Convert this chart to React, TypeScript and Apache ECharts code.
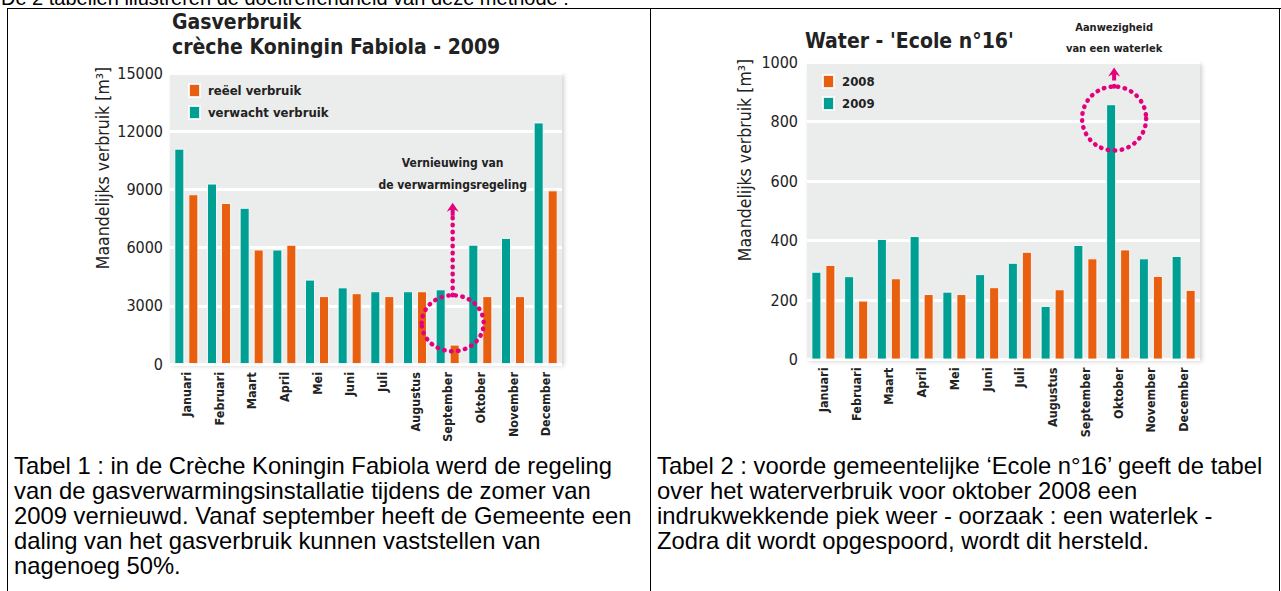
import React, { useEffect, useRef } from "react";
import * as echarts from "echarts";

// ---------- data ----------
const months = ["Januari", "Februari", "Maart", "April", "Mei", "Juni", "Juli", "Augustus", "September", "Oktober", "November", "December"];
const gasExpected = [11100, 9300, 8050, 5900, 4350, 3950, 3750, 3750, 3850, 6150, 6500, 12450];
const gasActual = [8750, 8300, 5900, 6150, 3500, 3650, 3500, 3750, 1000, 3500, 3500, 8950];
const water2009 = [295, 280, 405, 415, 228, 287, 325, 180, 385, 858, 340, 348];
const water2008 = [318, 198, 273, 220, 220, 243, 362, 236, 340, 370, 281, 234];
const gasAxis = [0, 15000, 3000];
const waterAxis = [0, 1000, 200];

const leftCaption = [
  "Tabel 1 : in de Crèche Koningin Fabiola werd de regeling",
  "van de gasverwarmingsinstallatie tijdens de zomer van",
  "2009 vernieuwd. Vanaf september heeft de Gemeente een",
  "daling van het gasverbruik kunnen vaststellen van",
  "nagenoeg 50%.",
];
const rightCaption = [
  "Tabel 2 : voorde gemeentelijke \u2018Ecole n°16\u2019 geeft de tabel",
  "over het waterverbruik voor oktober 2008 een",
  "indrukwekkende piek weer - oorzaak : een waterlek -",
  "Zodra dit wordt opgespoord, wordt dit hersteld.",
];
const topLine = "De 2 tabellen illustreren de doeltreffendheid van deze methode :";

const TEAL = "#009f94";
const ORANGE = "#e85f0f";
const MAG = "#e4007c";
const COND = "'DejaVu Sans Condensed', 'Liberation Sans Narrow', 'Arial Narrow', sans-serif";
const DOC = "'Liberation Sans', Arial, sans-serif";

function xAxisFor(grid: number) {
  return {
    type: "category",
    gridIndex: grid,
    data: months,
    axisLine: { show: false },
    axisTick: { show: false },
    axisLabel: { rotate: 90, margin: 8, interval: 0, fontFamily: COND, fontSize: 12.5, fontWeight: "bold", color: "#222" },
  };
}
function yAxisFor(grid: number, ax: number[], margin: number) {
  return {
    type: "value",
    gridIndex: grid,
    min: ax[0],
    max: ax[1],
    interval: ax[2],
    axisLine: { show: false },
    axisTick: { show: false },
    splitLine: { lineStyle: { color: "#ffffff", width: 3 } },
    axisLabel: { margin, fontFamily: COND, fontSize: 16, color: "#222", formatter: (v: number) => String(v) },
  };
}
const legendBase = {
  orient: "vertical",
  icon: "rect",
  itemWidth: 11,
  itemHeight: 13,
  itemGap: 7,
  selectedMode: false,
  textStyle: { fontFamily: COND, fontSize: 13, fontWeight: "bold", color: "#222", padding: [0, 0, 0, 3] },
};

function txt(x: number, y: number, text: string, font: string, align = "left", rotation = 0) {
  return {
    type: "text",
    x,
    y,
    rotation,
    z: 100,
    style: { text, font, fill: "#222", textAlign: align, textVerticalAlign: "middle" },
  };
}
const dotStyle = { fill: "none", stroke: MAG, lineWidth: 4.5, lineDash: [0.5, 6.5], lineCap: "round" };

export default function App() {
  const ref = useRef<HTMLDivElement>(null);
  useEffect(() => {
    if (!ref.current) return;
    const chart = echarts.init(ref.current, null, { renderer: "svg" });
    const barItem = (c: string) => ({ color: c, borderColor: "rgba(255,255,255,0.85)", borderWidth: 1 });
    chart.setOption({
      animation: false,
      grid: [
        { left: 170, top: 73, width: 392, height: 291, show: true, backgroundColor: "#ebecec", borderWidth: 0, shadowBlur: 4, shadowColor: "rgba(0,0,0,0.18)", shadowOffsetX: 2, shadowOffsetY: 2 },
        { left: 807, top: 62, width: 393, height: 297.5, show: true, backgroundColor: "#ebecec", borderWidth: 0, shadowBlur: 4, shadowColor: "rgba(0,0,0,0.18)", shadowOffsetX: 2, shadowOffsetY: 2 },
      ],
      xAxis: [xAxisFor(0), xAxisFor(1)],
      yAxis: [yAxisFor(0, gasAxis, 7), yAxisFor(1, waterAxis, 9)],
      legend: [
        { ...legendBase, data: ["reëel verbruik", "verwacht verbruik"], left: 183, top: 78 },
        { ...legendBase, data: ["2008", "2009"], left: 817, top: 69 },
      ],
      series: [
        { type: "bar", name: "verwacht verbruik", xAxisIndex: 0, yAxisIndex: 0, data: gasExpected, barWidth: 10, barGap: "40%", itemStyle: barItem(TEAL) },
        { type: "bar", name: "reëel verbruik", xAxisIndex: 0, yAxisIndex: 0, data: gasActual, barWidth: 10, barGap: "40%", itemStyle: barItem(ORANGE) },
        { type: "bar", name: "2009", xAxisIndex: 1, yAxisIndex: 1, data: water2009, barWidth: 10, barGap: "40%", itemStyle: barItem(TEAL) },
        { type: "bar", name: "2008", xAxisIndex: 1, yAxisIndex: 1, data: water2008, barWidth: 10, barGap: "40%", itemStyle: barItem(ORANGE) },
      ],
    });

    // annotation anchors derived from the axes
    const sepX = (chart.convertToPixel({ xAxisIndex: 0 }, "September") as number) + 5;
    const gasC = chart.convertToPixel({ yAxisIndex: 0 }, 2100) as number;
    const gasArrow = chart.convertToPixel({ yAxisIndex: 0 }, 7900) as number;
    const oktX = (chart.convertToPixel({ xAxisIndex: 1 }, "Oktober") as number) - 4;
    const watC = chart.convertToPixel({ yAxisIndex: 1 }, 810) as number;
    const watArrow = chart.convertToPixel({ yAxisIndex: 1 }, 955) as number;

    const arrowHead = (x: number, y: number) => ({
      type: "polygon",
      z: 100,
      shape: { points: [[x, y - 8], [x + 6, y + 1], [x + 2, y - 1], [x + 2, y + 5], [x - 2, y + 5], [x - 2, y - 1], [x - 6, y + 1]] },
      style: { fill: MAG },
    });

    const titleFont = `bold 21px ${COND}`;
    const annFont = `bold 12px ${COND}`;
    const axNameFont = `17.5px ${COND}`;
    chart.setOption({
      graphic: [
        txt(172, 22, "Gasverbruik", titleFont),
        txt(172, 47, "crèche Koningin Fabiola - 2009", titleFont),
        txt(805, 41, "Water - 'Ecole n°16'", titleFont),
        txt(103, 168, "Maandelijks verbruik [m³]", axNameFont, "center", Math.PI / 2),
        txt(745, 160, "Maandelijks verbruik [m³]", axNameFont, "center", Math.PI / 2),
        txt(sepX, 163, "Vernieuwing van", annFont, "center"),
        txt(sepX, 185, "de verwarmingsregeling", annFont, "center"),
        txt(oktX, 27, "Aanwezigheid", `bold 11px ${COND}`, "center"),
        txt(oktX, 48, "van een waterlek", `bold 11px ${COND}`, "center"),
        { type: "ellipse", z: 100, shape: { cx: sepX, cy: gasC, rx: 31, ry: 28 }, style: dotStyle },
        { type: "line", z: 100, shape: { x1: sepX, y1: gasC - 28, x2: sepX, y2: gasArrow + 6 }, style: dotStyle },
        arrowHead(sepX, gasArrow),
        { type: "circle", z: 100, shape: { cx: oktX, cy: watC, r: 32 }, style: dotStyle },
        { type: "line", z: 100, shape: { x1: oktX, y1: watC - 32, x2: oktX, y2: watArrow + 6 }, style: dotStyle },
        arrowHead(oktX, watArrow),
      ],
    });
    return () => chart.dispose();
  }, []);

  const border = (l: number, t: number, w: number, h: number) => (
    <div style={{ position: "absolute", left: l, top: t, width: w, height: h, background: "#000" }} />
  );
  const cap = (lines: string[], left: number) => (
    <div style={{ position: "absolute", left, top: 453, fontFamily: DOC, fontSize: 23.8, lineHeight: "25px", whiteSpace: "pre", color: "#000" }}>
      {lines.map((l, i) => (
        <div key={i}>{l}</div>
      ))}
    </div>
  );

  return (
    <div style={{ position: "absolute", left: 0, top: 0, width: 1281, height: 591, overflow: "hidden", background: "#fff" }}>
      <div style={{ position: "absolute", left: 1, top: -14, fontFamily: DOC, fontSize: 20, lineHeight: "25.5px", whiteSpace: "pre", color: "#000" }}>{topLine}</div>
      <div ref={ref} style={{ position: "absolute", left: 0, top: 0, width: 1281, height: 450 }} />
      {cap(leftCaption, 14)}
      {cap(rightCaption, 657)}
      {border(7, 8, 1274, 1)}
      {border(7, 8, 1, 583)}
      {border(650, 8, 1, 583)}
      {border(1279, 8, 1, 583)}
    </div>
  );
}
